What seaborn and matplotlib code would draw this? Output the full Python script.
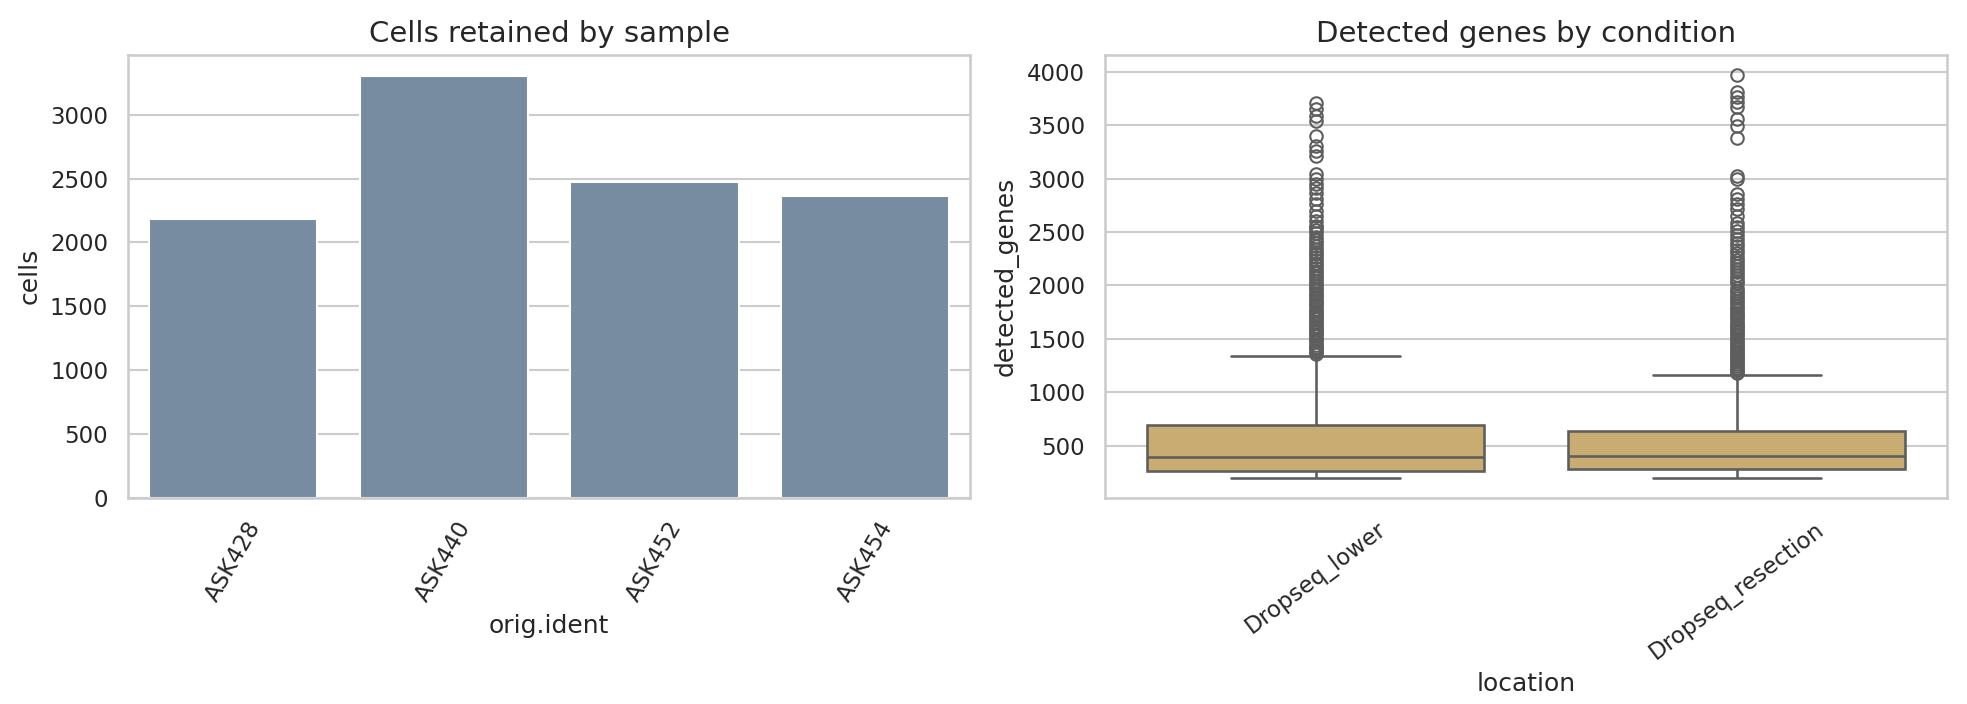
import pandas as pd
import matplotlib.pyplot as plt
import seaborn as sns

# ---- cells per sample (bar panel) ----
samples = ["ASK428", "ASK440", "ASK452", "ASK454"]
cells = [2182, 3304, 2471, 2363]

# ---- detected genes per location (box panel) ----
locations = ["Dropseq_lower", "Dropseq_resection"]
# min, Q1, median, Q3, upper whisker
stats_lower = [200, 259, 394, 697, 1340]
stats_resection = [200, 281, 403, 638, 1163]

outliers_lower = [
    1356, 1372, 1391, 1410, 1428, 1445, 1467, 1486, 1503, 1525, 1544, 1562,
    1585, 1603, 1621, 1644, 1662, 1683, 1701, 1724, 1742, 1765, 1783, 1806,
    1824, 1848, 1867, 1889, 1910, 1932, 1955, 1977, 1998, 2021, 2043, 2068,
    2090, 2114, 2137, 2162, 2188, 2211, 2236, 2262, 2290, 2318, 2345, 2372,
    2401, 2428, 2456, 2489, 2517, 2545, 2558, 2605, 2652, 2699, 2761, 2808,
    2870, 2910, 2948, 2995, 3040, 3214, 3261, 3308, 3402, 3543, 3590, 3653,
    3709,
]
outliers_resection = [
    1176, 1191, 1208, 1226, 1243, 1262, 1280, 1297, 1316, 1334, 1353, 1371,
    1390, 1409, 1427, 1446, 1465, 1484, 1503, 1522, 1542, 1561, 1580, 1600,
    1620, 1641, 1661, 1682, 1703, 1724, 1745, 1767, 1788, 1810, 1833, 1856,
    1879, 1902, 1926, 1950, 1975, 2020, 2046, 2072, 2099, 2126, 2154, 2182,
    2211, 2240, 2270, 2301, 2333, 2366, 2400, 2436, 2473, 2512, 2548, 2589,
    2652, 2714, 2761, 2808, 2855, 2995, 3026, 3377, 3490, 3558, 3668, 3714,
    3761, 3808, 3971,
]


def expand(stats, outliers, k=100):
    # rebuild a sample whose quartiles / whiskers hit the read-off values
    lo, q1, med, q3, hi = stats
    return ([lo] + [q1] * k + [med] * k + [q3] * k
            + [hi] * (k - len(outliers)) + sorted(outliers))


genes_lower = expand(stats_lower, outliers_lower)
genes_resection = expand(stats_resection, outliers_resection)

bars = pd.DataFrame({"orig.ident": samples, "cells": cells})
genes = pd.DataFrame({
    "location": [locations[0]] * len(genes_lower) + [locations[1]] * len(genes_resection),
    "detected_genes": genes_lower + genes_resection,
})

sns.set_theme(style="whitegrid", context="notebook")

fig, axes = plt.subplots(1, 2, figsize=(1967 / 150, 704 / 150), dpi=150)
fig.subplots_adjust(left=0.065, right=0.99, top=0.922, bottom=0.293, wspace=0.16)

ax = axes[0]
sns.barplot(data=bars, x="orig.ident", y="cells", color="#778ca0", saturation=1, ax=ax)
ax.set_title("Cells retained by sample", fontsize=14)
ax.tick_params(axis="x", rotation=60)

ax = axes[1]
sns.boxplot(data=genes, x="location", y="detected_genes", color="#c9ac71",
            saturation=1, fliersize=6, linewidth=1.25, ax=ax)
ax.set_title("Detected genes by condition", fontsize=14)
ax.tick_params(axis="x", rotation=37)

fig.savefig("out.png", dpi=150)
